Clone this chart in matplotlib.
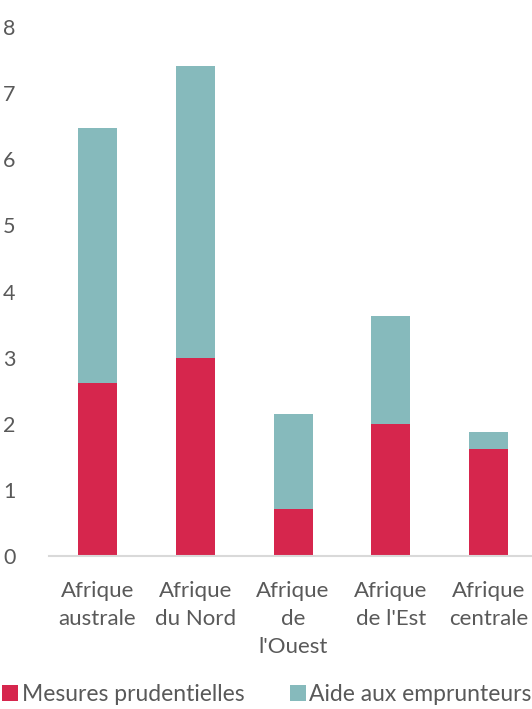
import matplotlib
matplotlib.use("Agg")
import matplotlib.pyplot as plt
import numpy as np

regions = ["Afrique\naustrale", "Afrique\ndu Nord", "Afrique\nde\nl'Ouest",
           "Afrique\nde l'Est", "Afrique\ncentrale"]
prudentielles = [2.62, 3.0, 0.71, 2.0, 1.62]
emprunteurs = [3.85, 4.41, 1.44, 1.63, 0.26]

RED = "#d6264d"
TEAL = "#86babc"
GREY = "#595959"

plt.rcParams["font.family"] = ["Lato", "DejaVu Sans"]

fig = plt.figure(figsize=(5.32, 7.09), dpi=100)
ax = fig.add_axes([48.6 / 532, 153 / 709, 489 / 532, 529 / 709])

x = np.arange(len(regions))
w = 0.4
ax.bar(x, prudentielles, w, color=RED, label="Mesures prudentielles")
ax.bar(x, emprunteurs, w, bottom=prudentielles, color=TEAL,
       label="Aide aux emprunteurs")

ax.set_xlim(-0.5, len(regions) - 0.5)
ax.set_ylim(0, 8)
ax.set_yticks(range(0, 9))
ax.set_xticks(x)
ax.set_xticklabels(regions, fontsize=16, color=GREY, linespacing=1.5)
ax.tick_params(axis="y", labelsize=15.5, labelcolor=GREY, length=0, pad=24)
ax.tick_params(axis="x", length=0, pad=18)
for s in ["top", "right", "left"]:
    ax.spines[s].set_visible(False)
ax.spines["bottom"].set_color("#d9d9d9")
ax.spines["bottom"].set_linewidth(1.5)

fig.legend(loc="lower left", bbox_to_anchor=(-0.022, -0.014), ncol=2,
           frameon=False, fontsize=16.5, labelcolor=GREY,
           handlelength=0.7, handleheight=0.7, handletextpad=0.15,
           columnspacing=2.0, borderaxespad=0.2)

fig.savefig("out.png", dpi=100)
